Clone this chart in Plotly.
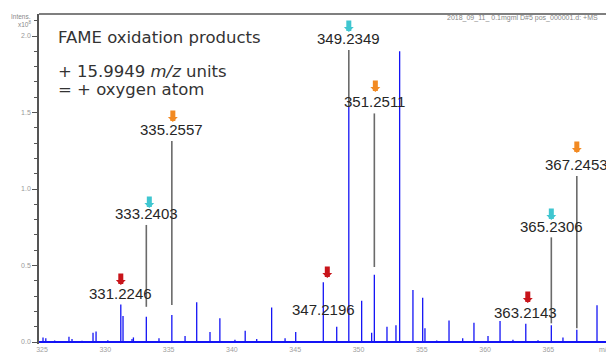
import plotly.graph_objects as go

# ---- spectrum: peak m/z and intensity (x10^8) ----
mz = [325.08, 325.30, 326.00, 327.13, 327.37, 328.16, 329.03, 329.27, 330.20,
      331.2246, 331.40, 332.11, 332.22, 333.2403, 334.24, 335.2557, 336.30,
      337.22, 338.27, 339.05, 340.24, 341.05, 341.96, 343.14, 344.20, 345.04,
      347.2196, 348.28, 349.2349, 350.25, 351.04, 351.2511, 352.25, 352.96,
      353.25, 354.30, 355.07, 355.25, 356.18, 357.15, 358.23, 359.12, 360.23,
      361.18, 362.20, 363.2143, 364.18, 365.2306, 366.15, 367.2453, 368.84]
intensity = [0.030, 0.025, 0.010, 0.035, 0.020, 0.008, 0.060, 0.068, 0.012,
             0.245, 0.170, 0.020, 0.030, 0.165, 0.025, 0.176, 0.040,
             0.260, 0.065, 0.155, 0.015, 0.074, 0.020, 0.225, 0.025, 0.065,
             0.390, 0.100, 1.540, 0.270, 0.060, 0.440, 0.100, 0.110,
             1.900, 0.340, 0.290, 0.090, 0.010, 0.140, 0.025, 0.125, 0.040,
             0.137, 0.015, 0.120, 0.012, 0.110, 0.030, 0.080, 0.240]

# ---- annotated peaks ----
label_mz = [331.2246, 333.2403, 335.2557, 347.2196, 349.2349, 351.2511,
            363.2143, 365.2306, 367.2453]
label_text = ["331.2246", "333.2403", "335.2557", "347.2196", "349.2349",
              "351.2511", "363.2143", "365.2306", "367.2453"]
label_group = ["base", "+2H", "+4H", "base", "+2H", "+4H", "base", "+2H", "+4H"]

# leader lines joining raised labels to their peaks
leader_mz = [333.2403, 335.2557, 349.2349, 351.2511, 365.2306, 367.2453]
leader_top = [0.765, 1.314, 1.908, 1.494, 0.684, 1.085]
leader_bottom = [0.230, 0.242, 1.540, 0.490, 0.122, 0.090]

x_ticks = [325, 330, 335, 340, 345, 350, 355, 360, 365]
y_ticks = [0.0, 0.5, 1.0, 1.5, 2.0]
y_ticktext = ["0.0", "0.5", "1.0", "1.5", "2.0"]

# ---- placement / style ----
label_y = [0.318, 0.837, 1.392, 0.214, 1.985, 1.571, 0.192, 0.754, 1.157]
arrow_tip = [0.373, 0.876, 1.438, 0.418, 2.026, 1.634, 0.255, 0.797, 1.235]
arrow_shift = [0, 3, 1, 4, 0, 1, 2, 0, 0]
group_color = {"base": "#c8141a", "+2H": "#3fc6d0", "+4H": "#f28a22"}

W, H = 606, 354
ML, MR, MT, MB = 39, 0, 14, 10
x_range = [324.763, 369.55]
y_range = [-0.0131, 2.1438]

stick_x, stick_y = [], []
for m, h in zip(mz, intensity):
    stick_x += [m, m, None]
    stick_y += [0, h, None]

lead_x, lead_y = [], []
for m, t, b in zip(leader_mz, leader_top, leader_bottom):
    lead_x += [m, m, None]
    lead_y += [t, b, None]

fig = go.Figure()
fig.add_trace(go.Scatter(x=stick_x, y=stick_y, mode="lines",
                         line=dict(color="#1414f5", width=1.3),
                         hoverinfo="skip", showlegend=False))
fig.add_trace(go.Scatter(x=lead_x, y=lead_y, mode="lines",
                         line=dict(color="#6a6a6a", width=1.6),
                         hoverinfo="skip", showlegend=False))

annotations = []
for m, txt, ly, tip, g, sh in zip(label_mz, label_text, label_y, arrow_tip,
                                  label_group, arrow_shift):
    annotations.append(dict(x=m, y=ly, xref="x", yref="y", text=txt,
                            showarrow=False, xanchor="center", yanchor="middle",
                            font=dict(family="Liberation Sans, Arial", size=15,
                                      color="#262626")))
    annotations.append(dict(x=m, y=tip, xref="x", yref="y", text="",
                            showarrow=True, arrowhead=1, arrowsize=0.33,
                            arrowwidth=5, arrowcolor=group_color[g],
                            ax=0, ay=-13, xshift=sh))


def px_x(px):
    return (px - ML) / (W - ML - MR)


def px_y(py):
    return (H - MB - py) / (H - MT - MB)


title_font = dict(family="DejaVu Sans", size=16.5, color="#333333")
annotations += [
    dict(x=px_x(56), y=px_y(37), xref="paper", yref="paper",
         text="FAME oxidation products", showarrow=False,
         xanchor="left", yanchor="middle", font=title_font),
    dict(x=px_x(56), y=px_y(71.5), xref="paper", yref="paper",
         text="+ 15.9949 <i>m/z</i> units", showarrow=False,
         xanchor="left", yanchor="middle", font=title_font),
    dict(x=px_x(56), y=px_y(89), xref="paper", yref="paper",
         text="= + oxygen atom", showarrow=False,
         xanchor="left", yanchor="middle", font=title_font),
    dict(x=px_x(33), y=px_y(16), xref="paper", yref="paper",
         text="Intens.", showarrow=False, xanchor="right", yanchor="middle",
         font=dict(family="Liberation Sans", size=6.5, color="#888")),
    dict(x=px_x(33), y=px_y(23.5), xref="paper", yref="paper",
         text="x10<sup>8</sup>", showarrow=False, xanchor="right", yanchor="middle",
         font=dict(family="Liberation Sans", size=6.5, color="#888")),
    dict(x=px_x(445), y=px_y(17.5), xref="paper", yref="paper",
         text="2018_09_11_ 0.1mgml D#5 pos_000001.d: +MS", showarrow=False,
         xanchor="left", yanchor="middle",
         font=dict(family="Liberation Sans", size=7, color="#888")),
    dict(x=px_x(597), y=px_y(349.5), xref="paper", yref="paper",
         text="m/z", showarrow=False, xanchor="left", yanchor="middle",
         font=dict(family="Liberation Sans", size=7, color="#999")),
]

fig.update_layout(
    width=W, height=H,
    margin=dict(l=ML, r=MR, t=MT, b=MB, pad=0),
    paper_bgcolor="white", plot_bgcolor="white",
    annotations=annotations,
    shapes=[dict(type="line", xref="paper", yref="paper", x0=0, x1=1, y0=1, y1=1,
                 line=dict(color="#555", width=1.5))],
    xaxis=dict(range=x_range, showgrid=False, zeroline=False, showline=False,
               tickvals=x_ticks, ticks="", ticklen=0,
               tickfont=dict(family="Liberation Sans", size=7, color="#a0a0a0")),
    yaxis=dict(range=y_range, showgrid=False, zeroline=True,
               zerolinecolor="#1414f5", zerolinewidth=1.5,
               showline=True, linecolor="#555", linewidth=1.5,
               tickvals=y_ticks, ticktext=y_ticktext, ticks="outside",
               ticklen=5, tickcolor="#555", tickwidth=1,
               minor=dict(dtick=0.1, ticks="outside", ticklen=3,
                          tickcolor="#555", tickwidth=1),
               tickfont=dict(family="Liberation Sans", size=7, color="#999")),
)

fig.write_html("out.html")
